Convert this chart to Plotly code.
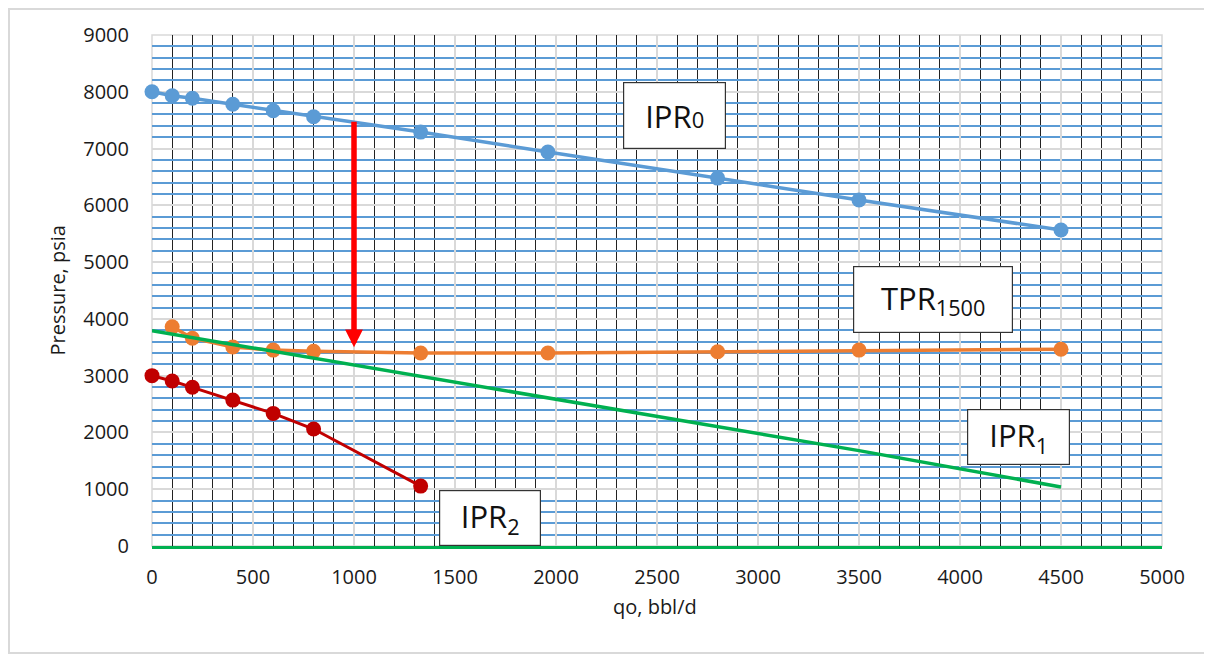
import plotly.graph_objects as go

# ---- data ----
qo = [0, 100, 200, 400, 600, 800, 1330, 1960, 2800, 3500, 4500]
ipr0 = [8000, 7930, 7885, 7780, 7665, 7560, 7290, 6940, 6480, 6095, 5565]
tpr_q = [100, 200, 400, 600, 800, 1330, 1960, 2800, 3500, 4500]
tpr1500 = [3860, 3660, 3505, 3450, 3430, 3400, 3400, 3420, 3450, 3465]
ipr1 = [3790, 3730, 3670, 3550, 3420, 3300, 2980, 2610, 2100, 1680, 1040]
ipr2_q = [0, 100, 200, 400, 600, 800, 1330]
ipr2 = [3000, 2905, 2795, 2570, 2335, 2060, 1055]

x_ticks = [0, 500, 1000, 1500, 2000, 2500, 3000, 3500, 4000, 4500, 5000]
y_ticks = [0, 1000, 2000, 3000, 4000, 5000, 6000, 7000, 8000, 9000]

arrow_q = 1000
arrow_from = 7500
arrow_to = 3500

FONT = "Open Sans"

fig = go.Figure()
fig.add_trace(go.Scatter(x=qo, y=ipr0, mode="lines+markers", name="IPR0",
                         line=dict(color="#5b9bd5", width=3.5),
                         marker=dict(color="#5b9bd5", size=15), cliponaxis=False))
fig.add_trace(go.Scatter(x=tpr_q, y=tpr1500, mode="lines+markers", name="TPR1500",
                         line=dict(color="#ed7d31", width=3.5),
                         marker=dict(color="#ed7d31", size=15), cliponaxis=False))
fig.add_trace(go.Scatter(x=qo, y=ipr1, mode="lines", name="IPR1",
                         line=dict(color="#00b050", width=3.5), cliponaxis=False))
fig.add_trace(go.Scatter(x=ipr2_q, y=ipr2, mode="lines+markers", name="IPR2",
                         line=dict(color="#c00000", width=3),
                         marker=dict(color="#c00000", size=15), cliponaxis=False))

# page body has an 8px margin, so the figure is shifted by 8px
fig.update_layout(
    width=1212, height=660,
    margin=dict(l=144, r=58, t=27, b=122),
    paper_bgcolor="white", plot_bgcolor="white",
    showlegend=False,
    font=dict(family=FONT, size=20, color="#1a1a1a"),
)

fig.update_xaxes(
    range=[0, 5000], tickvals=x_ticks, ticktext=[str(v) for v in x_ticks],
    showgrid=True, gridcolor="#d9d9d9", gridwidth=1.5,
    minor=dict(dtick=100, showgrid=True, gridcolor="#222222", gridwidth=1),
    zeroline=False, showline=True, linecolor="#00b050", linewidth=2.5,
    ticks="", ticklabelstandoff=11,
    tickfont=dict(family=FONT, size=20, color="#1a1a1a"),
)
fig.update_yaxes(
    range=[0, 9000], tickvals=y_ticks, ticktext=[str(v) for v in y_ticks],
    showgrid=True, gridcolor="#d9d9d9", gridwidth=1.5,
    minor=dict(dtick=200, showgrid=True, gridcolor="#5b9bd5", gridwidth=2),
    zeroline=False, showline=False,
    ticks="", ticklabelstandoff=22,
    tickfont=dict(family=FONT, size=20, color="#1a1a1a"),
)

# plot-area border and outer chart border
fig.add_shape(type="rect", xref="paper", yref="paper", x0=0, x1=1, y0=0, y1=1,
              line=dict(color="#d9d9d9", width=1.5), layer="below")
fig.add_shape(type="rect", xref="paper", yref="paper",
              x0=-0.1416, x1=1.0426, y0=-0.2094, y1=1.0509,
              line=dict(color="#d9d9d9", width=2), layer="below")

# axis titles
fig.add_annotation(text="qo, bbl/d", xref="paper", yref="paper", x=0.498, y=-0.119,
                   showarrow=False, xanchor="center", yanchor="middle",
                   font=dict(family=FONT, size=20, color="#1a1a1a"))
fig.add_annotation(text="Pressure, psia", xref="paper", yref="paper", x=-0.094, y=0.5,
                   showarrow=False, xanchor="center", yanchor="middle", textangle=-90,
                   font=dict(family=FONT, size=20, color="#1a1a1a"))

# red arrow
fig.add_annotation(x=arrow_q, y=arrow_to, ax=arrow_q, ay=arrow_from,
                   xref="x", yref="y", axref="x", ayref="y",
                   showarrow=True, arrowhead=2, arrowsize=0.65, arrowwidth=5.5,
                   arrowcolor="#ff0000", text="")

# label boxes
labels = [
    ("IPR<span style='font-size:22px'>0</span>", 2585, 7582, 103, 67),
    ("TPR<sub>1500</sub>", 3864, 4341, 160, 67),
    ("IPR<sub>1</sub>", 4292, 1920, 103, 56),
    ("IPR<sub>2</sub>", 1672, 493, 102, 56),
]
for txt, cx, cy, w, h in labels:
    fig.add_annotation(text=txt, x=cx, y=cy, xref="x", yref="y", showarrow=False,
                       xanchor="center", yanchor="middle", width=w - 2, height=h - 2,
                       align="center", valign="middle",
                       bgcolor="white", bordercolor="#333333", borderwidth=1.2, borderpad=0,
                       font=dict(family=FONT, size=31, color="#111111"))

fig.write_html("out.html")
